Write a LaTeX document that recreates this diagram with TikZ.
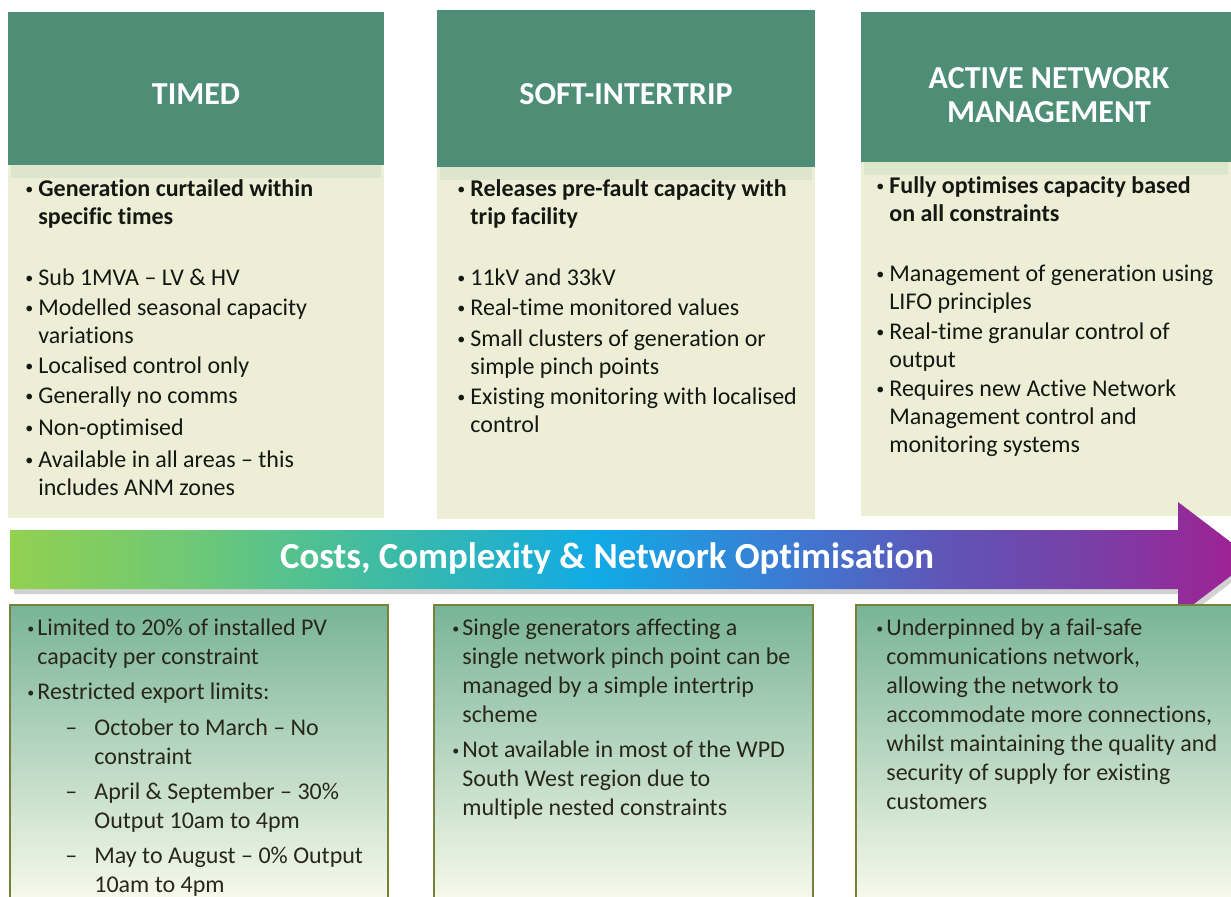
\documentclass[tikz,border=0pt]{standalone}
\usepackage{fontspec}
\setmainfont{Carlito}[Ligatures={TeX,NoCommon}]
\definecolor{headteal}{RGB}{78,142,118}
\definecolor{panelcream}{RGB}{236,239,214}
\definecolor{panelstrip}{RGB}{221,229,203}
\definecolor{notetop}{RGB}{120,180,150}
\definecolor{notemid}{RGB}{202,223,192}
\definecolor{notebot}{RGB}{247,249,236}
\definecolor{noteedge}{RGB}{118,130,58}
\definecolor{inkdark}{RGB}{22,22,18}
\definecolor{notedark}{RGB}{40,40,26}
\definecolor{arrA}{RGB}{146,208,80}
\definecolor{arrB}{RGB}{108,200,120}
\definecolor{arrC}{RGB}{58,186,168}
\definecolor{arrD}{RGB}{16,170,230}
\definecolor{arrE}{RGB}{62,120,210}
\definecolor{arrF}{RGB}{96,84,182}
\definecolor{arrG}{RGB}{122,62,166}
\definecolor{arrH}{RGB}{164,30,146}
\pgfdeclarehorizontalshading{costshade}{100bp}{color(0bp)=(arrA); color(25bp)=(arrA);
  color(32.6bp)=(arrB); color(40.6bp)=(arrC); color(48.6bp)=(arrD); color(56.7bp)=(arrE);
  color(62.7bp)=(arrF); color(68.7bp)=(arrG); color(75bp)=(arrH); color(100bp)=(arrH)}
\newcommand{\itemfont}{\fontsize{12}{14}\selectfont}
\newcommand{\notefont}{\fontsize{12}{14.5}\selectfont}
\newcommand{\lns}[1]{\begin{tabular}[t]{@{}l@{}}#1\end{tabular}}
\newcommand{\bul}{\makebox[6.5pt][l]{\raisebox{0.8pt}{\mdseries\footnotesize\textbullet}}}
\newcommand{\ind}{\hspace*{6.5pt}}
\newcommand{\nbul}{\makebox[5pt][l]{\raisebox{0.8pt}{\scriptsize\textbullet}}}
\newcommand{\nind}{\hspace*{5pt}}
\newcommand{\sdash}{\makebox[14.5pt][l]{–}}
\newcommand{\sind}{\hspace*{14.5pt}}

\begin{document}
\begin{tikzpicture}[x=0.5pt, y=-0.5pt,
    headtext/.style={text=white, font=\fontsize{16}{17}\selectfont\bfseries, align=center},
    item/.style={anchor=base west, inner sep=0pt, font=\itemfont, text=inkdark},
    note/.style={anchor=base west, inner sep=0pt, font=\notefont, text=notedark}]
  \path[use as bounding box, clip] (0,0) rectangle (1231,896);
  \fill[white] (0,0) rectangle (1231,896);

  % header blocks and cream panels
  \foreach \xa/\xb/\ya/\yb/\yc in {8/384/12/165/518, 437/815/10/167/519, 861/1231/12/162/516} {
    \fill[panelcream] (\xa,\yb) rectangle (\xb,\yc);
    \fill[panelstrip] (\xa+3,\yb) rectangle (\xb-3,\yb+13);
    \fill[headteal] (\xa,\ya) rectangle (\xb,\yb);
  }
  \node[headtext] (h1) at (196,94) {TIMED};
  \node[headtext] (h2) at (626,94) {SOFT-INTERTRIP};
  \node[headtext] (h3) at (1049,95) {ACTIVE NETWORK\\MANAGEMENT};

  % timed
  \node[item, font=\itemfont\bfseries] (t1a) at (25,196) {\lns{\bul Generation curtailed within\\\ind specific times}};
  \node[item] (t1b) at (25,285) {\lns{\bul Sub 1MVA – LV \& HV}};
  \node[item] (t1c) at (25,315) {\lns{\bul Modelled seasonal capacity\\\ind variations}};
  \node[item] (t1d) at (25,373) {\lns{\bul Localised control only}};
  \node[item] (t1e) at (25,403) {\lns{\bul Generally no comms}};
  \node[item] (t1f) at (25,435) {\lns{\bul Non-optimised}};
  \node[item] (t1g) at (25,467) {\lns{\bul Available in all areas – this\\\ind includes ANM zones}};

  % soft-intertrip
  \node[item, font=\itemfont\bfseries] (t2a) at (457,196) {\lns{\bul Releases pre-fault capacity with\\\ind trip facility}};
  \node[item] (t2b) at (457,285) {\lns{\bul 11kV and 33kV}};
  \node[item] (t2c) at (457,315) {\lns{\bul Real-time monitored values}};
  \node[item] (t2d) at (457,346) {\lns{\bul Small clusters of generation or\\\ind simple pinch points}};
  \node[item] (t2e) at (457,404) {\lns{\bul Existing monitoring with localised\\\ind control}};

  % anm
  \node[item, font=\itemfont\bfseries] (t3a) at (876,193) {\lns{\bul Fully optimises capacity based\\\ind on all constraints}};
  \node[item] (t3b) at (876,281) {\lns{\bul Management of generation using\\\ind LIFO principles}};
  \node[item] (t3c) at (876,339) {\lns{\bul Real-time granular control of\\\ind output}};
  \node[item] (t3d) at (876,396) {\lns{\bul Requires new Active Network\\\ind Management control and\\\ind monitoring systems}};

  % cost arrow
  \fill[black!18] (14,534) -- (1182,534) -- (1182,506) -- (1257,563) -- (1182,620) -- (1182,594) -- (14,594) -- cycle;
  \shade[shading=costshade] (10,530) -- (1178,530) -- (1178,502) -- (1253,559) -- (1178,616) -- (1178,589) -- (10,589) -- cycle;
  \node[text=white, font=\fontsize{18.4}{22}\selectfont\bfseries] (cost) at (607,558) {Costs, Complexity \& Network Optimisation};

  % lower notes
  \foreach \xa/\xb in {10/388, 434/813, 856/1240} {
    \shade[top color=notetop, middle color=notemid, bottom color=notebot] (\xa,605) rectangle (\xb,900);
    \draw[noteedge, line width=0.8pt] (\xa,605) rectangle (\xb,900);
  }
  \node[note] (n1a) at (27,635) {\lns{\nbul Limited to 20\% of installed PV\\\nind capacity per constraint}};
  \node[note] (n1b) at (27,699) {\lns{\nbul Restricted export limits:}};
  \node[note] (n1c) at (65,735) {\lns{\sdash October to March – No\\\sind constraint}};
  \node[note] (n1d) at (65,799) {\lns{\sdash April \& September – 30\%\\\sind Output 10am to 4pm}};
  \node[note] (n1e) at (65,863) {\lns{\sdash May to August – 0\% Output\\\sind 10am to 4pm}};

  \node[note] (n2a) at (452,635) {\lns{\nbul Single generators affecting a\\\nind single network pinch point can be\\\nind managed by a simple intertrip\\\nind scheme}};
  \node[note] (n2b) at (452,757) {\lns{\nbul Not available in most of the WPD\\\nind South West region due to\\\nind multiple nested constraints}};

  \node[note] (n3a) at (876,635) {\lns{\nbul Underpinned by a fail-safe\\\nind communications network,\\\nind allowing the network to\\\nind accommodate more connections,\\\nind whilst maintaining the quality and\\\nind security of supply for existing\\\nind customers}};
\end{tikzpicture}
\end{document}
